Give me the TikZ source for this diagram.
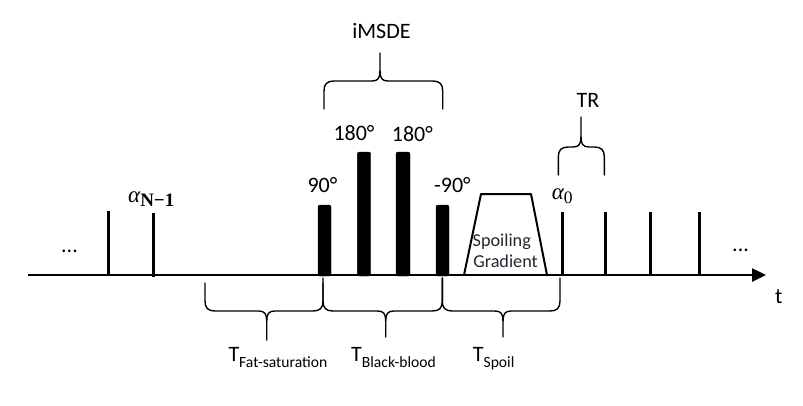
\documentclass[tikz,border=0pt]{standalone}
\usepackage{fontspec}
\setmainfont{Carlito}
\newfontfamily\subserif{Liberation Serif}
\usetikzlibrary{arrows.meta}
% brace: x1, x2, xtip, yend, yhoriz, ytip, sign(+1 tip below)
\newcommand\mybrace[7]{%
  \draw[bracestyle] (#1,#4) -- (#1,{#5-10*#7}) .. controls (#1,{#5-3*#7}) and ({#1+3},#5) .. ({#1+10},#5)
    -- ({#3-8},#5) .. controls ({#3-2},#5) and (#3,{#5+3*#7}) .. (#3,{#5+10*#7}) -- (#3,#6);
  \draw[bracestyle] (#3,{#5+10*#7}) .. controls (#3,{#5+3*#7}) and ({#3+2},#5) .. ({#3+8},#5)
    -- ({#2-10},#5) .. controls ({#2-3},#5) and (#2,{#5-3*#7}) .. (#2,{#5-10*#7}) -- (#2,#4);}
\definecolor{gradtext}{RGB}{38,38,50}
\begin{document}
\begin{tikzpicture}[x=1pt,y=-1pt,
  bracestyle/.style={line width=1.4pt,line cap=round,line join=round},
  pulse/.style={line width=3pt},
  bar/.style={fill=black,rounded corners=2pt},
  lbl/.style={inner sep=0pt,font=\fontsize{22}{26}\selectfont},
  greek/.style={inner sep=0pt,font=\fontsize{23}{27}\selectfont\subserif\itshape}]
\useasboundingbox (0,0) rectangle (803,405);
% axis
\coordinate (axL) at (28,275);
\coordinate (axR) at (766,275);
\draw[line width=2.5pt,-{Triangle[length=14pt,width=13pt]}] (axL) -- (axR);
\node[lbl,anchor=base west] (t) at (775,303.3) {t};
% pulses before
\coordinate (pA) at (108,275); \draw[pulse] (pA) -- (108,211);
\coordinate (pB) at (153,277); \draw[pulse] (pB) -- (153,213);
\node[lbl,anchor=base west] (dotsL) at (61,252) {...};
\node[greek,anchor=base west] (aN) at (128,202.7) {α\raisebox{-4pt}{\fontsize{19}{22}\selectfont\upshape\bfseries N−1}};
% iMSDE bars
\draw[bar] (318,276) rectangle (331,205);
\draw[bar] (357.3,276) rectangle (370.7,152);
\draw[bar] (396,276) rectangle (410,152);
\draw[bar] (436,276) rectangle (449,205);
\node[lbl,anchor=base west] (l90) at (307.3,192.7) {90°};
\node[lbl,anchor=base west] (l180a) at (333.3,140.7) {180°};
\node[lbl,anchor=base west] (l180b) at (391.7,141) {180°};
\node[lbl,anchor=base west] (lm90) at (434,192.7) {-90°};
% spoiler trapezoid
\draw[line width=2pt,line join=round] (464,275) -- (481,194) -- (531,194) -- (547,275);
\node[inner sep=0pt,anchor=base,text=gradtext,font=\fontsize{18.2}{22}\selectfont] (sp1) at (501.8,246) {Spoiling};
\node[inner sep=0pt,anchor=base,text=gradtext,font=\fontsize{18.2}{22}\selectfont] (sp2) at (505.5,267.3) {Gradient};
% pulses after
\coordinate (q0) at (562,275); \draw[pulse] (q0) -- (562,212);
\coordinate (q1) at (605,275); \draw[pulse] (q1) -- (605,212);
\coordinate (q2) at (650,275); \draw[pulse] (q2) -- (650,212);
\coordinate (q3) at (699,275); \draw[pulse] (q3) -- (699,212);
\node[greek,anchor=base west] (a0) at (551.7,199.3) {α\raisebox{-4pt}{\fontsize{17.5}{20}\selectfont\upshape 0}};
\node[lbl,anchor=base west] (dotsR) at (732,251) {...};
% braces
\mybrace{324}{442.7}{380}{109}{81}{53}{-1}
\node[lbl,anchor=base] (imsde) at (381.5,38.3) {iMSDE};
\mybrace{558.3}{604.3}{581}{175}{147}{117}{-1}
\node[lbl,anchor=base] (tr) at (588,107.3) {TR};
\mybrace{205}{323}{266.7}{283}{311}{340}{1}
\mybrace{323}{442.3}{385.7}{278}{311}{337}{1}
\mybrace{442.3}{560}{503}{278}{311}{337}{1}
\node[lbl,anchor=base west] (tfat) at (228.3,361.7) {T\raisebox{-5.6pt}{\fontsize{15.6}{18}\selectfont Fat-saturation}};
\node[lbl,anchor=base west] (tbb) at (351,361.7) {T\raisebox{-5.6pt}{\fontsize{15.6}{18}\selectfont Black-blood}};
\node[lbl,anchor=base west] (tsp) at (472.7,361.7) {T\raisebox{-5.6pt}{\fontsize{15.6}{18}\selectfont Spoil}};
\end{tikzpicture}
\end{document}
